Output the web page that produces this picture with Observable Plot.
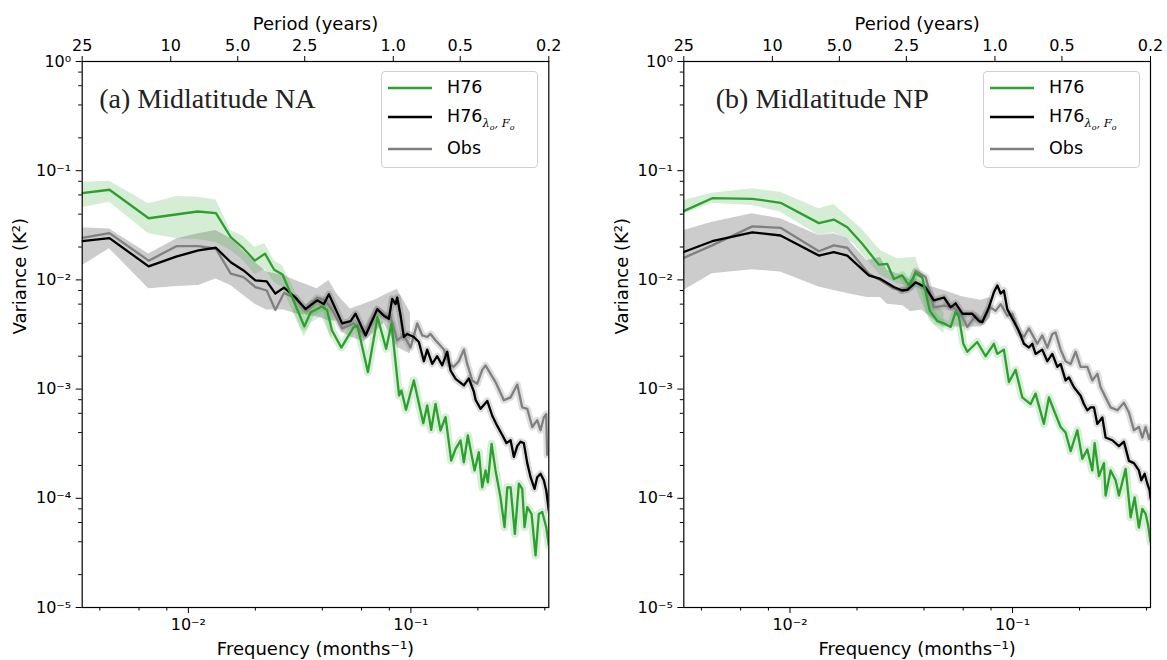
<!DOCTYPE html>
<html>
<head>
<meta charset="utf-8">
<script src="https://cdn.jsdelivr.net/npm/d3@7"></script>
<script src="https://cdn.jsdelivr.net/npm/@observablehq/plot@0.6"></script>
<style>
  body { margin: 0; background: #fff; }
  #wrap { position: relative; width: 1167px; height: 660px; overflow: hidden; font-family: "DejaVu Sans", sans-serif; }
  .panel { position: absolute; top: 0; }
  .legend { position: absolute; top: 71px; width: 155px; height: 95px; border: 1px solid #d0d0d0; border-radius: 4px; background: rgba(255,255,255,0.8); }
  .row { position: absolute; left: 0; height: 0; }
  .row svg { position: absolute; left: 6px; top: -2px; }
  .row span.t { position: absolute; left: 65px; top: -11px; font-size: 17.5px; white-space: nowrap; color: #000; }
  .sub { font-family: "DejaVu Serif", serif; font-style: italic; font-size: 11.5px; position: relative; top: 5px; }
  .sub sub { font-size: 8px; }
</style>
</head>
<body>
<div id="wrap">
  <div id="pa" class="panel" style="left:0px"></div>
  <div id="pb" class="panel" style="left:583px"></div>
</div>
<script>
// ---------- axis / tick data ----------
const periodYears = [25, 10, 5, 2.5, 1, 0.5, 0.2];
const periodLabels = ["25", "10", "5.0", "2.5", "1.0", "0.5", "0.2"];
const yMajor = [1e-5, 1e-4, 1e-3, 1e-2, 1e-1, 1];
const yMajorLabels = ["10⁻⁵", "10⁻⁴", "10⁻³", "10⁻²", "10⁻¹", "10⁰"];
const yMinor = [2e-5,4e-5,6e-5,8e-5,2e-4,4e-4,6e-4,8e-4,2e-3,4e-3,6e-3,8e-3,2e-2,4e-2,6e-2,8e-2,0.2,0.4,0.6,0.8];
const xMajor = [0.01, 0.1];
const xMajorLabels = ["10⁻²", "10⁻¹"];
const xMinor = [0.004, 0.006, 0.008, 0.02, 0.04, 0.06, 0.08, 0.2, 0.4];
const seriesNames = ["H76", "H76λo,Fo", "Obs"];
const colors = {h76: "#2ca02c", lam: "#000000", obs: "#808080"};

// ---------- Panel (a) Midlatitude NA ----------
const naH76F = [0.00333,0.00442,0.00663,0.0110,0.0133,0.0155,0.0177,0.0199,0.0221,0.0243,0.0265,0.0310,0.0332,0.0354,0.0398,0.0420,0.0442,0.0487,0.0553,0.0575,0.0641,0.0708,0.0774,0.0818,0.0885,0.0907,0.0951,0.1031,0.1137,0.1184,0.1234,0.1290,0.1359,0.1431,0.1518,0.1588,0.1671,0.1730,0.1803,0.1933,0.2020,0.2092,0.2165,0.2217,0.2305,0.2401,0.2528,0.2636,0.2712,0.2806,0.2933,0.3057,0.3165,0.3242,0.3334,0.3485,0.3633,0.3759,0.3893,0.4057,0.4167];
const naH76V = [0.0622,0.0669,0.0367,0.0423,0.0408,0.0246,0.0194,0.0150,0.0174,0.0124,0.0112,0.00525,0.00374,0.00503,0.0057,0.0053,0.00344,0.00240,0.00369,0.00382,0.00143,0.00455,0.00234,0.00397,0.000874,0.00097,0.000646,0.00120,0.000487,0.000708,0.000424,0.000733,0.000418,0.000553,0.000222,0.000284,0.000338,0.000214,0.000376,0.000180,0.000264,0.000126,0.000180,0.000140,0.000315,0.000180,0.000102,0.0000544,0.000126,0.000126,0.0000473,0.000136,0.000122,0.0000544,0.000083,0.000072,0.000030,0.000072,0.000075,0.0000544,0.000037];
const naH76BandF  = [0.00333,0.00442,0.00663,0.00888,0.0110,0.0133,0.0155,0.0177,0.0199,0.0221,0.0243,0.0265,0.0310,0.0332,0.0354,0.0398,0.0442];
const naH76BandLo = [0.0457,0.0515,0.0264,0.0238,0.0235,0.0221,0.0186,0.0150,0.0112,0.0125,0.0095,0.0085,0.0040,0.0030,0.0040,0.0046,0.0028];
const naH76BandHi = [0.0785,0.0800,0.0498,0.0580,0.0570,0.0540,0.0284,0.0250,0.0199,0.0214,0.0150,0.0135,0.0070,0.0050,0.0064,0.0070,0.0043];

const naLamF = [0.00333,0.00442,0.00663,0.00888,0.0111,0.0133,0.0155,0.0177,0.0200,0.0225,0.0246,0.0269,0.0303,0.0336,0.0379,0.0406,0.0428,0.0459,0.0491,0.0536,0.0564,0.0626,0.0706,0.0756,0.0796,0.0824,0.0853,0.0868,0.0899,0.0930,0.0963,0.1031,0.1086,0.1144,0.1184,0.1247,0.1313,0.1383,0.1457,0.1507,0.1588,0.1730,0.1821,0.1918,0.1953,0.2056,0.2204,0.2321,0.2444,0.2574,0.2690,0.2806,0.2902,0.3006,0.3110,0.3218,0.3334,0.3451,0.3595,0.3696,0.3825,0.3957,0.4057,0.4167];
const naLamV = [0.0226,0.0241,0.0133,0.0164,0.0186,0.0197,0.0145,0.0122,0.0099,0.0097,0.0075,0.0085,0.0069,0.0054,0.0065,0.0060,0.0074,0.0054,0.0040,0.0042,0.0049,0.0031,0.0054,0.0047,0.0044,0.0067,0.0060,0.0069,0.0047,0.0030,0.0032,0.0030,0.0027,0.0018,0.0023,0.0017,0.0020,0.00165,0.0022,0.00148,0.00124,0.00108,0.00125,0.00095,0.00080,0.00066,0.00078,0.00057,0.00046,0.00038,0.00032,0.00034,0.00024,0.00030,0.00033,0.00032,0.00021,0.000156,0.000122,0.000156,0.000168,0.000146,0.000118,0.000077];
const naBandF  = [0.00333,0.00442,0.00663,0.00888,0.0111,0.0133,0.0155,0.0199,0.0225,0.0269,0.0303,0.0379,0.0428,0.0464,0.0491,0.0536,0.0614,0.0706,0.0756,0.0869,0.0996];
const naBandLo = [0.0135,0.0193,0.0083,0.0087,0.0089,0.0102,0.0089,0.0060,0.0053,0.0053,0.0049,0.0046,0.0042,0.0042,0.0033,0.0030,0.0027,0.0035,0.0040,0.0024,0.0021];
const naBandHi = [0.0300,0.0293,0.0173,0.0238,0.0265,0.0284,0.0238,0.0145,0.0118,0.0110,0.0099,0.0083,0.0099,0.0075,0.0065,0.0054,0.0060,0.0067,0.0072,0.0082,0.0050];

const naObsF = [0.00333,0.00442,0.00663,0.00888,0.0111,0.0133,0.0155,0.0177,0.0200,0.0225,0.0246,0.0269,0.0298,0.0336,0.0379,0.0413,0.0443,0.0491,0.0554,0.0614,0.0706,0.0769,0.0810,0.0868,0.0930,0.0996,0.1068,0.1125,0.1184,0.1225,0.1290,0.1407,0.1481,0.1559,0.1642,0.1730,0.1791,0.1887,0.1987,0.2092,0.2165,0.2281,0.2401,0.2617,0.2806,0.3006,0.3165,0.3334,0.3511,0.3696,0.3825,0.3957,0.4057,0.4097,0.4167];
const naObsV = [0.0243,0.0268,0.0150,0.0204,0.0204,0.0193,0.0114,0.0106,0.0086,0.0080,0.0053,0.0076,0.0069,0.0053,0.0069,0.0065,0.0053,0.0036,0.0040,0.0032,0.0053,0.0047,0.0046,0.0028,0.0031,0.0024,0.0040,0.0031,0.0030,0.0032,0.0028,0.0023,0.0017,0.0016,0.0018,0.0023,0.0017,0.0012,0.00112,0.0015,0.00165,0.00138,0.00116,0.00079,0.00084,0.0011,0.00068,0.00066,0.00045,0.00052,0.00042,0.00055,0.00059,0.00025,0.00029];

// ---------- Panel (b) Midlatitude NP ----------
const nbH76F = [0.00333,0.00447,0.00677,0.00907,0.01348,0.01574,0.01809,0.02112,0.02508,0.02736,0.02929,0.03194,0.03420,0.03667,0.03931,0.04251,0.04590,0.04915,0.05269,0.05546,0.0574,0.0601,0.0626,0.0694,0.0757,0.0824,0.0854,0.0914,0.0963,0.1032,0.1106,0.1205,0.1269,0.1383,0.1457,0.1534,0.1644,0.1731,0.1824,0.1954,0.2058,0.2167,0.2282,0.2338,0.2444,0.2574,0.2619,0.2758,0.2905,0.3006,0.3222,0.3394,0.3535,0.3696,0.3829,0.3962,0.4057,0.4167];
const nbH76V = [0.0426,0.0560,0.0553,0.0508,0.0331,0.0357,0.0304,0.0214,0.0138,0.0140,0.0102,0.0110,0.0089,0.0115,0.0105,0.0052,0.0042,0.0040,0.0037,0.0051,0.0046,0.0026,0.0022,0.0027,0.0020,0.0026,0.0021,0.0023,0.00116,0.0015,0.00084,0.00073,0.00091,0.00048,0.00084,0.00064,0.00045,0.00040,0.00027,0.00042,0.00023,0.00028,0.00018,0.00032,0.00016,0.00021,0.000106,0.00018,0.000146,0.000106,0.000186,0.000067,0.000102,0.000054,0.000080,0.000072,0.000058,0.000040];
const nbH76BandF  = [0.00333,0.00447,0.00677,0.00907,0.01348,0.01574,0.0194,0.0211,0.0255,0.0303,0.0367,0.0425,0.0492];
const nbH76BandLo = [0.0403,0.0504,0.0480,0.0417,0.0255,0.0270,0.0215,0.0173,0.0110,0.0092,0.0085,0.0042,0.0032];
const nbH76BandHi = [0.0533,0.0622,0.0683,0.0636,0.0448,0.0490,0.0338,0.0290,0.0186,0.0156,0.0161,0.0068,0.0050];

const nbLamF = [0.00333,0.00447,0.00677,0.00907,0.01348,0.01574,0.01809,0.0226,0.0255,0.0293,0.0319,0.0337,0.0367,0.0407,0.0443,0.0492,0.0527,0.0555,0.0595,0.0659,0.0706,0.0731,0.0783,0.0824,0.0854,0.0884,0.0914,0.0947,0.0998,0.1068,0.1125,0.1184,0.1227,0.1269,0.1360,0.1433,0.1509,0.1589,0.1644,0.1731,0.1791,0.1887,0.2022,0.2092,0.2167,0.2243,0.2321,0.2404,0.2531,0.2619,0.2807,0.3006,0.3165,0.3334,0.3511,0.3696,0.3789,0.3922,0.4032,0.4130,0.4167];
const nbLamV = [0.0180,0.0226,0.0273,0.0255,0.0167,0.0180,0.0167,0.0110,0.0102,0.0086,0.0080,0.0081,0.0095,0.0085,0.0065,0.0069,0.0056,0.0061,0.0049,0.0049,0.0042,0.0041,0.0056,0.0077,0.0089,0.0075,0.0080,0.0054,0.0044,0.0034,0.0026,0.0024,0.0026,0.0021,0.0023,0.0018,0.0021,0.0016,0.0017,0.0012,0.00128,0.00104,0.00087,0.00073,0.00064,0.00068,0.00068,0.00048,0.00055,0.00036,0.00034,0.00030,0.00033,0.00022,0.00021,0.00018,0.000146,0.000168,0.000136,0.000118,0.000100];
const nbBandF  = [0.00333,0.00447,0.00677,0.00907,0.01348,0.01574,0.01809,0.0222,0.0255,0.0274,0.0322,0.0348,0.0390,0.0492,0.0595,0.0720,0.0797];
const nbBandLo = [0.0080,0.0114,0.0124,0.0118,0.0086,0.0080,0.0075,0.0069,0.0069,0.0060,0.0058,0.0051,0.0053,0.0037,0.0037,0.0037,0.0045];
const nbBandHi = [0.0284,0.0338,0.0403,0.0363,0.0255,0.0264,0.0238,0.0150,0.0161,0.0122,0.0110,0.0100,0.0092,0.0080,0.0070,0.0065,0.0069];

const nbObsF = [0.00333,0.00447,0.00677,0.00907,0.01348,0.01574,0.01809,0.0226,0.0255,0.0293,0.0314,0.0348,0.0367,0.0407,0.0443,0.0492,0.0545,0.0595,0.0626,0.0682,0.0731,0.0797,0.0839,0.0884,0.0947,0.0998,0.1068,0.1125,0.1184,0.1292,0.1360,0.1433,0.1509,0.1561,0.1644,0.1731,0.1824,0.1920,0.2022,0.2167,0.2282,0.2404,0.2487,0.2619,0.2758,0.2957,0.3165,0.3334,0.3511,0.3696,0.3829,0.3962,0.4101,0.4167];
const nbObsV = [0.0159,0.0207,0.0309,0.0300,0.0183,0.0207,0.0197,0.0114,0.0099,0.0083,0.0080,0.0086,0.0121,0.0106,0.0056,0.0058,0.0056,0.0046,0.0037,0.0047,0.0042,0.0056,0.0052,0.0060,0.0047,0.0049,0.0033,0.0030,0.0036,0.0026,0.0031,0.0024,0.0032,0.0033,0.0023,0.0018,0.0017,0.0022,0.0016,0.0016,0.0012,0.00138,0.00104,0.00084,0.00068,0.00064,0.00075,0.00061,0.00042,0.00045,0.00036,0.00045,0.00035,0.00039];

// ---------- helpers ----------
const pts = (F, V) => F.map((f, i) => ({f, v: V[i]}));
const band = (F, L, H) => F.map((f, i) => ({f, lo: L[i], hi: H[i]}));
const periodTicks = periodYears.map((p, i) => ({f: 1 / (12 * p), label: periodLabels[i]}));
const yTicks = yMajor.map((v, i) => ({v, label: yMajorLabels[i]}));
const xTicks = xMajor.map((f, i) => ({f, label: xMajorLabels[i]}));

function panel({title, titleDx, marginLeft, marginRight, width, h76, h76Band, lam, lamBand, obs}) {
  const hiF = d => d.f >= 0.03;
  return Plot.plot({
    width, height: 660,
    marginLeft, marginRight, marginTop: 61, marginBottom: 53,
    style: {fontFamily: "DejaVu Sans, sans-serif", fontSize: "16px", color: "#000", background: "transparent", overflow: "visible"},
    x: {type: "log", domain: [periodTicks[0].f, periodTicks[periodTicks.length - 1].f], label: null},
    y: {type: "log", domain: [1e-5, 1], label: null},
    marks: [
      Plot.areaY(lamBand, {x: "f", y1: "lo", y2: "hi", fill: "#000", fillOpacity: 0.2, clip: true}),
      Plot.areaY(h76Band, {x: "f", y1: "lo", y2: "hi", fill: colors.h76, fillOpacity: 0.2, clip: true}),
      Plot.line(obs, {x: "f", y: "v", filter: hiF, stroke: colors.obs, strokeOpacity: 0.25, strokeWidth: 7, clip: true}),
      Plot.line(lam, {x: "f", y: "v", filter: hiF, stroke: "#000", strokeOpacity: 0.14, strokeWidth: 7, clip: true}),
      Plot.line(h76, {x: "f", y: "v", filter: hiF, stroke: colors.h76, strokeOpacity: 0.18, strokeWidth: 8, clip: true}),
      Plot.line(obs, {x: "f", y: "v", stroke: colors.obs, strokeWidth: 2.3, clip: true}),
      Plot.line(lam, {x: "f", y: "v", stroke: colors.lam, strokeWidth: 2.3, clip: true}),
      Plot.line(h76, {x: "f", y: "v", stroke: colors.h76, strokeWidth: 2.3, clip: true}),
      Plot.frame({stroke: "#000", strokeWidth: 1.2}),
      // y axis: major ticks + labels, minor ticks
      Plot.axisY({ticks: yMajor, tickFormat: () => "", tickSize: 6, label: null}),
      Plot.axisY({ticks: yMinor, tickFormat: () => "", tickSize: 3.5, label: null}),
      Plot.text(yTicks, {y: "v", text: "label", frameAnchor: "left", textAnchor: "end", dx: -11, fontSize: 16}),
      // bottom x axis
      Plot.axisX({anchor: "bottom", ticks: xMajor, tickFormat: () => "", tickSize: 6, label: null}),
      Plot.axisX({anchor: "bottom", ticks: xMinor, tickFormat: () => "", tickSize: 3.5, label: null}),
      Plot.text(xTicks, {x: "f", text: "label", frameAnchor: "bottom", dy: 22, fontSize: 16}),
      // top axis (period)
      Plot.axisX({anchor: "top", ticks: periodTicks.map(d => d.f), tickFormat: () => "", tickSize: 6, label: null}),
      Plot.text(periodTicks, {x: "f", text: "label", frameAnchor: "top", dy: -22, fontSize: 16}),
      Plot.text(["Period (years)"], {frameAnchor: "top", dy: -44, fontSize: 18}),
      Plot.text(["Frequency (months⁻¹)"], {frameAnchor: "bottom", dy: 47, fontSize: 18}),
      Plot.text(["Variance (K²)"], {frameAnchor: "left", dx: -62, rotate: -90, fontSize: 18}),
      Plot.text([title], {frameAnchor: "top-left", textAnchor: "start", dx: titleDx, dy: 27, fontFamily: "Liberation Serif, serif", fontSize: 28, fill: "#222"})
    ]
  });
}

document.getElementById("pa").append(panel({
  title: "(a) Midlatitude NA", titleDx: 17,
  width: 583, marginLeft: 81.7, marginRight: 34.7,
  h76: pts(naH76F, naH76V), h76Band: band(naH76BandF, naH76BandLo, naH76BandHi),
  lam: pts(naLamF, naLamV), lamBand: band(naBandF, naBandLo, naBandHi),
  obs: pts(naObsF, naObsV)
}));
document.getElementById("pb").append(panel({
  title: "(b) Midlatitude NP", titleDx: 32,
  width: 584, marginLeft: 100.3, marginRight: 17,
  h76: pts(nbH76F, nbH76V), h76Band: band(nbH76BandF, nbH76BandLo, nbH76BandHi),
  lam: pts(nbLamF, nbLamV), lamBand: band(nbBandF, nbBandLo, nbBandHi),
  obs: pts(nbObsF, nbObsV)
}));

// ---------- legends (HTML) ----------
function legend(left) {
  const box = document.createElement("div");
  box.className = "legend";
  box.style.left = left + "px";
  const rows = [
    {c: colors.h76, html: seriesNames[0], top: 16},
    {c: colors.lam, html: 'H76<span class="sub">λ<sub>o</sub>, F<sub>o</sub></span>', top: 45},
    {c: colors.obs, html: seriesNames[2], top: 77}
  ];
  for (const r of rows) {
    const row = document.createElement("div");
    row.className = "row";
    row.style.top = r.top + "px";
    row.innerHTML = `<svg width="44" height="4"><line x1="0" y1="2" x2="44" y2="2" stroke="${r.c}" stroke-width="2.5"/></svg><span class="t">${r.html}</span>`;
    box.append(row);
  }
  document.getElementById("wrap").append(box);
}
legend(381);
legend(983);
</script>
</body>
</html>
